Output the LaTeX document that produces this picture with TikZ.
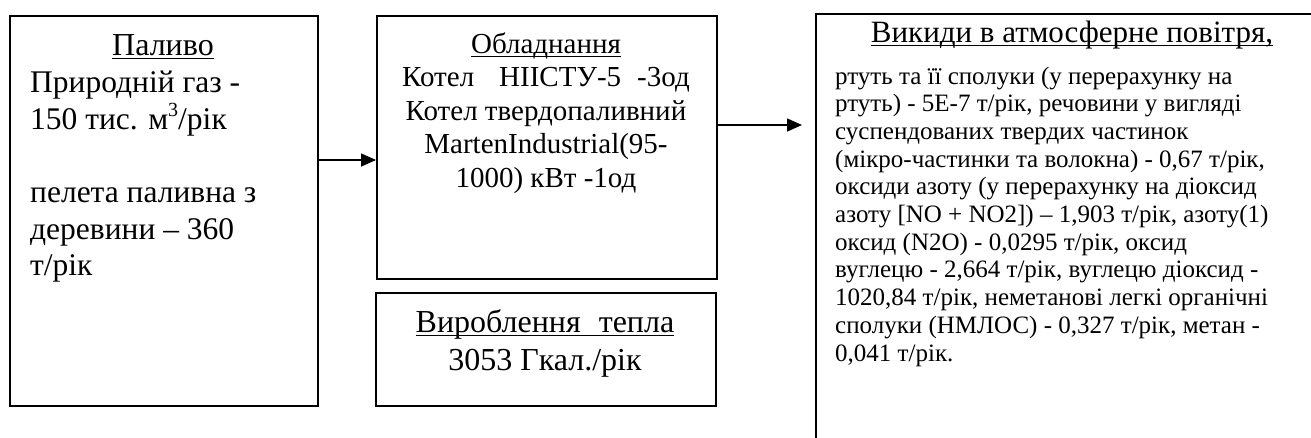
\documentclass[tikz,border=0pt]{standalone}
\usepackage{fontspec}
\setmainfont{Liberation Serif}
\usetikzlibrary{arrows.meta}
\newsavebox{\myulbox}
\newcommand{\myul}[1]{\sbox{\myulbox}{#1}\rlap{\rule[-0.14em]{\wd\myulbox}{0.05em}}\usebox{\myulbox}}
\newcommand{\blk}[2]{\begin{tabular}[t]{@{}#1@{}}#2\end{tabular}}
\newcommand{\supthree}{\raisebox{0.42em}{\fontsize{20}{20}\selectfont 3}}
\begin{document}
\begin{tikzpicture}[x=1pt,y=-1pt,
  box/.style={draw, line width=1.8pt, inner sep=0pt, anchor=north west},
  txt/.style={inner sep=0pt},
  arr/.style={line width=1.6pt, -{Triangle[length=15pt,width=13pt]}}]
\useasboundingbox (0,0) rectangle (1311,437);
\clip (0,0) rectangle (1311,437);
% boxes
\node[box, minimum width=308pt, minimum height=390pt] (fuel) at (9,15) {};
\node[box, minimum width=340pt, minimum height=263pt] (equip) at (376,15) {};
\node[box, minimum width=340pt, minimum height=113pt] (heat) at (375,292) {};
\node[box, minimum width=520pt, minimum height=460pt] (emis) at (815,13) {};
% texts
\node[txt, anchor=base, font=\fontsize{32}{36.8}\selectfont] (fuelT) at (163,55) {\myul{Паливо}};
\node[txt, anchor=base west, font=\fontsize{31.5}{36.6}\selectfont] (fuelB) at (30,92)
  {\blk{l}{Природній газ -\\150 тис. м\supthree/рік\\ \\пелета паливна з\\деревини – 360\\т/рік}};
\node[txt, anchor=base, font=\fontsize{29}{33.5}\selectfont] (equipB) at (546,53)
  {\blk{c}{\myul{Обладнання}\\Котел\hspace{25pt}НІІСТУ-5\hspace{16pt}-3од\\Котел твердопаливний\\MartenIndustrial(95-\\1000) кВт -1од}};
\node[txt, anchor=base, font=\fontsize{32}{38}\selectfont] (heatB) at (545,332)
  {\blk{c}{\myul{Вироблення\hspace{18pt}тепла}\\3053 Гкал./рік}};
\node[txt, anchor=base, font=\fontsize{31}{35}\selectfont] (emisT) at (1072,42) {\myul{Викиди в атмосферне повітря,}};
\node[txt, anchor=base west, font=\fontsize{25}{27.7}\selectfont] (emisB) at (835,84)
  {\blk{l}{ртуть та її сполуки (у перерахунку на\\
ртуть) - 5E-7 т/рік, речовини у вигляді\\
суспендованих твердих частинок\\
(мікро-частинки та волокна) - 0,67 т/рік,\\
оксиди азоту (у перерахунку на діоксид\\
азоту [NO + NO2]) – 1,903 т/рік, азоту(1)\\
оксид (N2O) - 0,0295 т/рік, оксид\\
вуглецю - 2,664 т/рік, вуглецю діоксид -\\
1020,84 т/рік, неметанові легкі органічні\\
сполуки (НМЛОС) - 0,327 т/рік, метан -\\
0,041 т/рік.}};
% connectors
\coordinate (a1) at (0,160);
\coordinate (a2) at (0,125);
\draw[arr] (fuel.east |- a1) -- (equip.west |- a1);
\draw[arr, shorten >=13pt] (equip.east |- a2) -- (emis.west |- a2);
\end{tikzpicture}
\end{document}
